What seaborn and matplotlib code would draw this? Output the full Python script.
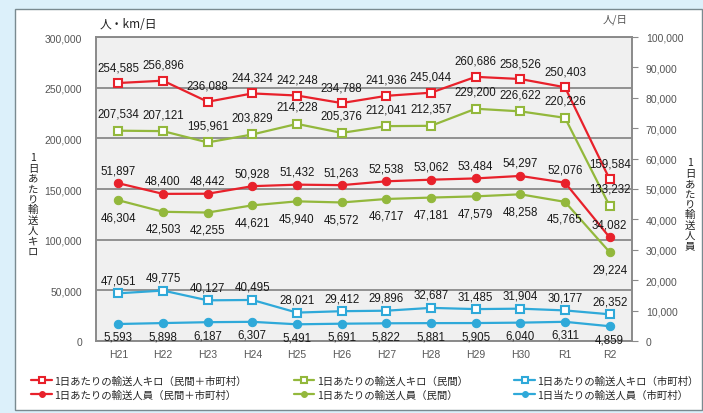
import numpy as np
import pandas as pd
import matplotlib
matplotlib.use("Agg")
import matplotlib.pyplot as plt
from matplotlib.patches import Rectangle
from matplotlib.ticker import FuncFormatter, MultipleLocator
import seaborn as sns

# %% data
years = ["H21", "H22", "H23", "H24", "H25", "H26", "H27", "H28", "H29", "H30", "R1", "R2"]

km_total = [254585, 256896, 236088, 244324, 242248, 234788, 241936, 245044, 260686, 258526, 250403, 159584]
km_private = [207534, 207121, 195961, 203829, 214228, 205376, 212041, 212357, 229200, 226622, 220226, 133232]
km_municipal = [47051, 49775, 40127, 40495, 28021, 29412, 29896, 32687, 31485, 31904, 30177, 26352]

pax_total = [51897, 48400, 48442, 50928, 51432, 51263, 52538, 53062, 53484, 54297, 52076, 34082]
pax_private = [46304, 42503, 42255, 44621, 45940, 45572, 46717, 47181, 47579, 48258, 45765, 29224]
pax_municipal = [5593, 5898, 6187, 6307, 5491, 5691, 5822, 5881, 5905, 6040, 6311, 4859]

legend_labels = [
    "1日あたりの輸送人キロ（民間＋市町村）",
    "1日あたりの輸送人キロ（民間）",
    "1日あたりの輸送人キロ（市町村）",
    "1日あたりの輸送人員（民間＋市町村）",
    "1日あたりの輸送人員（民間）",
    "1日当たりの輸送人員（市町村）",
]

RED = "#e8212b"
GREEN = "#93b83c"
BLUE = "#2fa9d9"
NUM_FONT = "Liberation Sans"

# %% style
sns.set_style("white")
plt.rcParams["font.family"] = ["Noto Sans CJK JP", "DejaVu Sans"]

fig = plt.figure(figsize=(7.03, 4.14), dpi=100)
fig.patch.set_facecolor("#dcf0fa")
fig.add_artist(Rectangle((15 / 703, 3 / 414), 687 / 703, 401 / 414, transform=fig.transFigure,
                         facecolor="white", edgecolor="#7a8a90", lw=1.0, zorder=0))

ax = fig.add_axes([96 / 703, 1 - 342 / 414, 536 / 703, 304 / 414])
ax2 = ax.twinx()
ax.set_zorder(1)
ax2.set_zorder(2)
ax.set_facecolor("#f0f0f0")
ax2.patch.set_visible(False)

x = np.arange(len(years))
px = 0.72  # points per pixel


def draw(axis, vals, color, marker, label, dy):
    df = pd.DataFrame({"x": x, "y": vals})
    if marker == "s":
        sns.lineplot(data=df, x="x", y="y", ax=axis, color=color, lw=1.6, marker="s",
                     markersize=6, markerfacecolor="white", markeredgecolor=color,
                     markeredgewidth=1.5, label=label, legend=False)
    else:
        sns.lineplot(data=df, x="x", y="y", ax=axis, color=color, lw=1.6, marker="o",
                     markersize=6, markerfacecolor=color, markeredgecolor=color,
                     label=label, legend=False)
    for xi, v in zip(x, vals):
        axis.annotate(f"{v:,}", (xi, v), xytext=(0, dy * px), textcoords="offset points",
                      ha="center", va="center", fontsize=8.3, color="#1a1a1a",
                      family=NUM_FONT)


draw(ax, km_total, RED, "s", legend_labels[0], 16)
draw(ax, km_private, GREEN, "s", legend_labels[1], 17)
draw(ax, km_municipal, BLUE, "s", legend_labels[2], 13)
draw(ax2, pax_total, RED, "o", legend_labels[3], 13)
draw(ax2, pax_private, GREEN, "o", legend_labels[4], -17)
draw(ax2, pax_municipal, BLUE, "o", legend_labels[5], -13)

ax.set_xlim(-0.5, len(years) - 0.5)
ax.set_ylim(0, 300000)
ax2.set_ylim(0, 100000)
ax.yaxis.set_major_locator(MultipleLocator(50000))
ax2.yaxis.set_major_locator(MultipleLocator(10000))
fmt = FuncFormatter(lambda v, p: f"{int(v):,}")
ax.yaxis.set_major_formatter(fmt)
ax2.yaxis.set_major_formatter(fmt)
ax.grid(axis="y", color="#8a8a8a", lw=1.3)
ax.set_axisbelow(True)

ax.set_xticks(x)
ax.set_xticklabels(years)
ax.set_xticks(np.arange(-0.5, len(years)), minor=True)
ax.tick_params(axis="x", which="major", length=0, labelsize=7.5, labelcolor="#555555", pad=6)
ax.tick_params(axis="x", which="minor", length=4, color="#8a8a8a", direction="out")
ax.tick_params(axis="y", length=0, labelsize=7.5, labelcolor="#555555", pad=10)
ax2.tick_params(axis="y", length=4, color="#8a8a8a", direction="out", labelsize=7.5,
                labelcolor="#555555", pad=6)
for a in (ax, ax2):
    a.set_xlabel("")
    a.set_ylabel("")
    for lab in a.get_xticklabels() + a.get_yticklabels():
        lab.set_family(NUM_FONT)
    for s in a.spines.values():
        s.set_color("#8a8a8a")
        s.set_linewidth(1.2)

fig.text(100 / 703, 1 - 25 / 414, "人・km/日", fontsize=8.5, va="center", ha="left", color="#222222")
fig.text(628 / 703, 1 - 20 / 414, "人/日", fontsize=7.5, va="center", ha="right", color="#555555")
fig.text(33 / 703, 1 - 205 / 414, "\n".join("1日あたり輸送人キロ"), fontsize=7.5,
         va="center", ha="center", linespacing=1.05, color="#222222")
fig.text(690 / 703, 1 - 205 / 414, "\n".join("1日あたり輸送人員"), fontsize=7.5,
         va="center", ha="center", linespacing=1.05, color="#222222")

h1, l1 = ax.get_legend_handles_labels()
h2, l2 = ax2.get_legend_handles_labels()
handles = [h1[0], h2[0], h1[1], h2[1], h1[2], h2[2]]
labels = [l1[0], l2[0], l1[1], l2[1], l1[2], l2[2]]
fig.legend(handles, labels, ncol=3, loc="lower left", bbox_to_anchor=(22 / 703, 4 / 414),
           frameon=False, fontsize=7.5, handlelength=2.0, handletextpad=0.2,
           columnspacing=4.5, labelspacing=0.35, markerscale=0.7)

fig.savefig("out.png", dpi=100)
